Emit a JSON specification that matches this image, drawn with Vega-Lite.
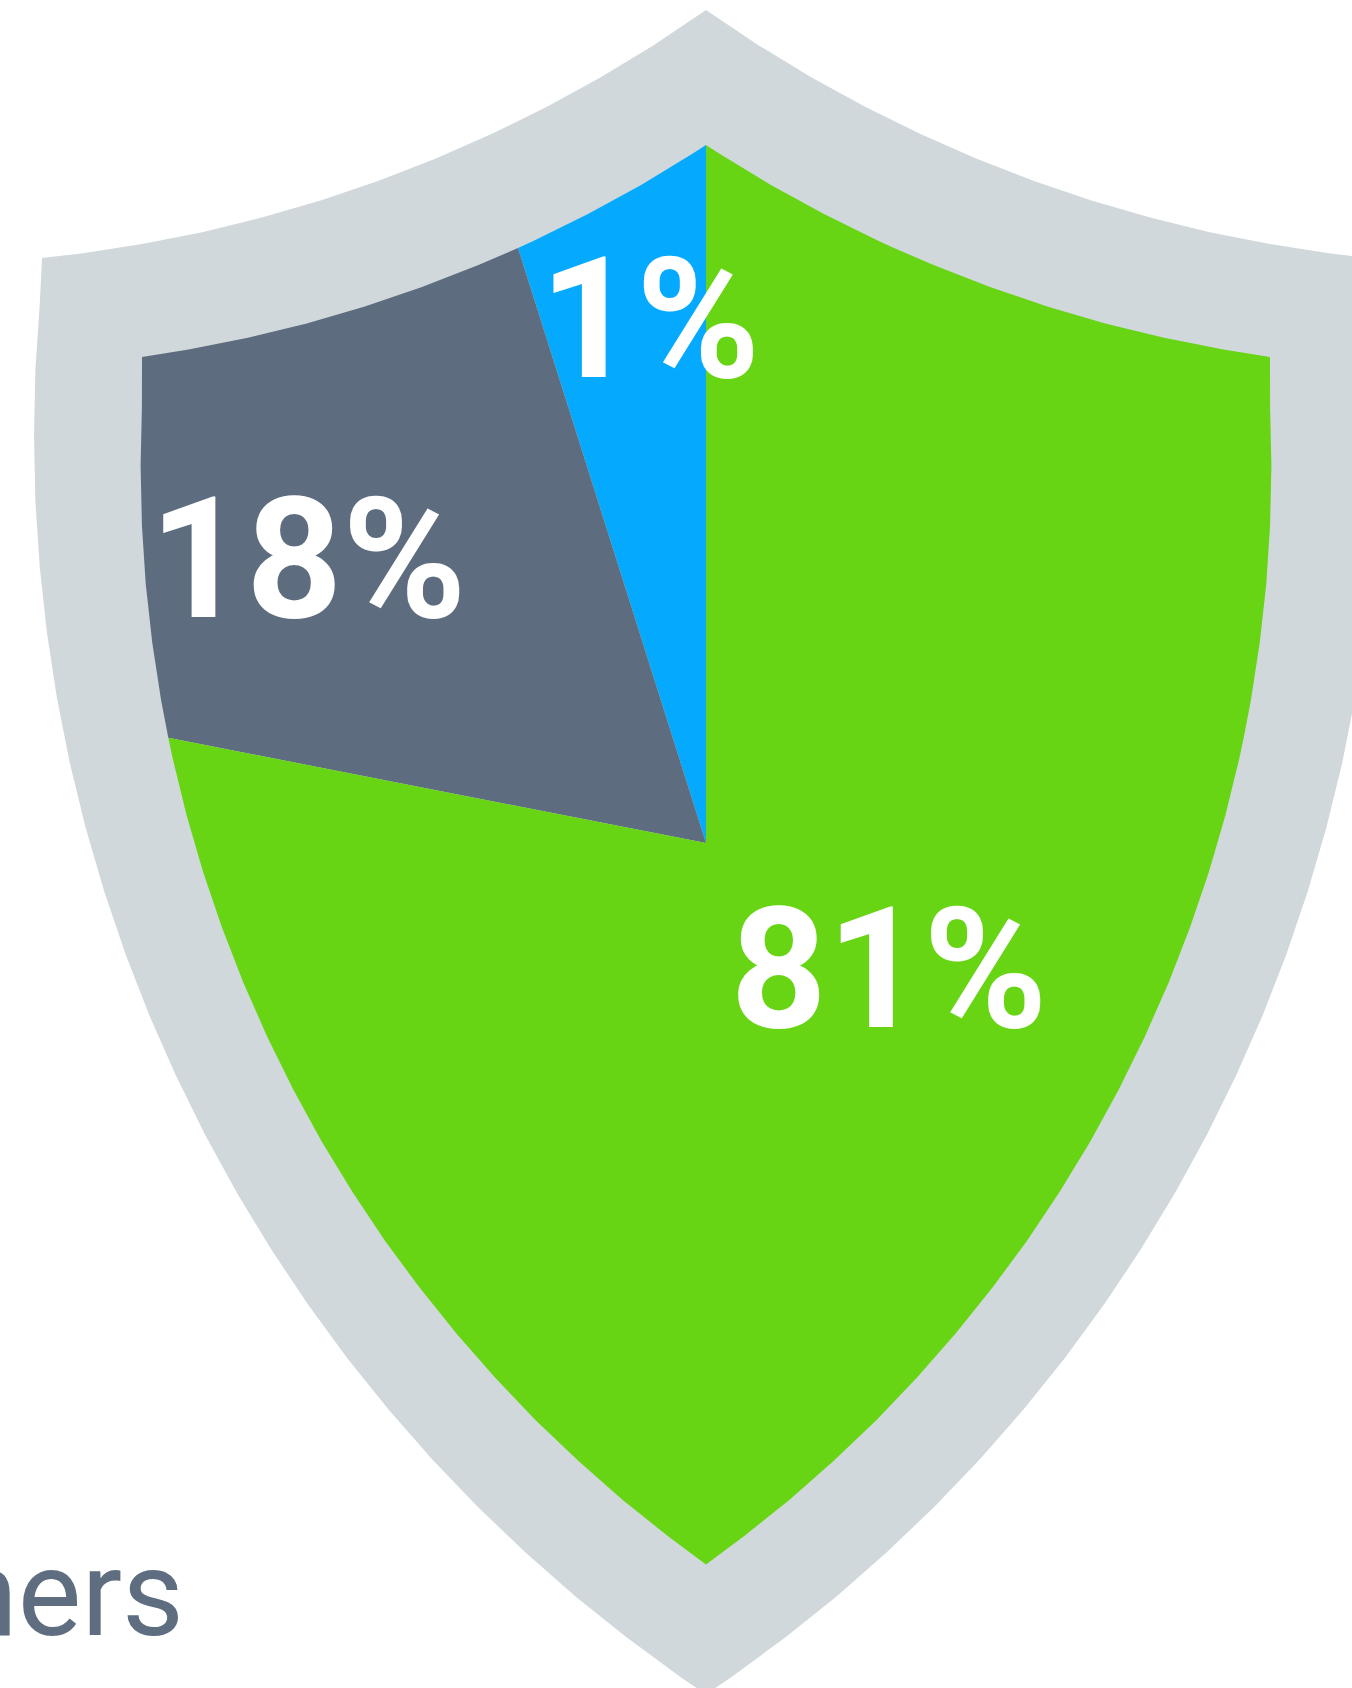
{
  "$schema": "https://vega.github.io/schema/vega-lite/v6.json",
  "width": 1352,
  "height": 1688,
  "autosize": "none",
  "padding": 0,
  "background": "#ffffff",
  "config": {"view": {"stroke": null}},
  "datasets": {
    "shield": [
      {"i":0,"x":706,"y":10},{"i":1,"x":758.8,"y":45.4},{"i":2,"x":811.2,"y":77.2},{"i":3,"x":865.1,"y":106.7},
      {"i":4,"x":920,"y":133.8},{"i":5,"x":976.1,"y":158.5},{"i":6,"x":1033.3,"y":180.7},{"i":7,"x":1091.4,"y":200.4},
      {"i":8,"x":1150.2,"y":217.6},{"i":9,"x":1209.8,"y":232.2},{"i":10,"x":1270,"y":244.1},{"i":11,"x":1330.6,"y":253.4},
      {"i":12,"x":1370,"y":258},{"i":13,"x":1372.2,"y":303.4},{"i":14,"x":1376.6,"y":369.4},{"i":15,"x":1378,"y":435.5},
      {"i":16,"x":1376.6,"y":501.6},{"i":17,"x":1372.2,"y":567.6},{"i":18,"x":1365,"y":633.3},{"i":19,"x":1355,"y":698.6},
      {"i":20,"x":1342.1,"y":763.5},{"i":21,"x":1326.4,"y":827.6},{"i":22,"x":1307.9,"y":891.1},{"i":23,"x":1286.6,"y":953.7},
      {"i":24,"x":1262.7,"y":1015.3},{"i":25,"x":1236,"y":1075.8},{"i":26,"x":1206.8,"y":1135.1},{"i":27,"x":1175,"y":1193.1},
      {"i":28,"x":1140.7,"y":1249.6},{"i":29,"x":1104,"y":1304.6},{"i":30,"x":1064.9,"y":1357.9},{"i":31,"x":1023.5,"y":1409.5},
      {"i":32,"x":979.9,"y":1459.2},{"i":33,"x":934.2,"y":1506.9},{"i":34,"x":886.5,"y":1552.6},{"i":35,"x":836.8,"y":1596.2},
      {"i":36,"x":785.2,"y":1637.6},{"i":37,"x":731.9,"y":1676.7},{"i":38,"x":706,"y":1694.4},{"i":39,"x":680.1,"y":1676.7},
      {"i":40,"x":626.8,"y":1637.6},{"i":41,"x":575.2,"y":1596.2},{"i":42,"x":525.5,"y":1552.6},{"i":43,"x":477.8,"y":1506.9},
      {"i":44,"x":432.1,"y":1459.2},{"i":45,"x":388.5,"y":1409.5},{"i":46,"x":347.1,"y":1357.9},{"i":47,"x":308,"y":1304.6},
      {"i":48,"x":271.3,"y":1249.6},{"i":49,"x":237,"y":1193.1},{"i":50,"x":205.2,"y":1135.1},{"i":51,"x":176,"y":1075.8},
      {"i":52,"x":149.3,"y":1015.3},{"i":53,"x":125.4,"y":953.7},{"i":54,"x":104.1,"y":891.1},{"i":55,"x":85.6,"y":827.6},
      {"i":56,"x":69.9,"y":763.5},{"i":57,"x":57,"y":698.6},{"i":58,"x":47,"y":633.3},{"i":59,"x":39.8,"y":567.6},
      {"i":60,"x":35.4,"y":501.6},{"i":61,"x":34,"y":435.5},{"i":62,"x":35.4,"y":369.4},{"i":63,"x":39.8,"y":303.4},
      {"i":64,"x":42,"y":258},{"i":65,"x":81.4,"y":253.4},{"i":66,"x":142,"y":244.1},{"i":67,"x":202.2,"y":232.2},
      {"i":68,"x":261.8,"y":217.6},{"i":69,"x":320.6,"y":200.4},{"i":70,"x":378.7,"y":180.7},{"i":71,"x":435.9,"y":158.5},
      {"i":72,"x":492,"y":133.8},{"i":73,"x":546.9,"y":106.7},{"i":74,"x":600.8,"y":77.2},{"i":75,"x":653.2,"y":45.4},
      {"i":76,"x":706,"y":10}
    ],
    "wedges": [
      {"segment":"1%","i":0,"x":706,"y":843},{"segment":"1%","i":1,"x":706,"y":145},{"segment":"1%","i":2,"x":692.8,"y":153.5},
      {"segment":"1%","i":3,"x":641.1,"y":184.9},{"segment":"1%","i":4,"x":588,"y":214},{"segment":"1%","i":5,"x":533.8,"y":240.7},
      {"segment":"1%","i":6,"x":518,"y":248},{"segment":"1%","i":7,"x":706,"y":843},

      {"segment":"18%","i":0,"x":706,"y":843},{"segment":"18%","i":1,"x":518,"y":248},{"segment":"18%","i":2,"x":478.4,"y":265.1},
      {"segment":"18%","i":3,"x":422,"y":287},{"segment":"18%","i":4,"x":364.8,"y":306.4},{"segment":"18%","i":5,"x":306.7,"y":323.4},
      {"segment":"18%","i":6,"x":247.9,"y":337.7},{"segment":"18%","i":7,"x":188.6,"y":349.5},{"segment":"18%","i":8,"x":142,"y":357},
      {"segment":"18%","i":9,"x":141.9,"y":407.1},{"segment":"18%","i":10,"x":140.6,"y":466},{"segment":"18%","i":11,"x":141.9,"y":524.9},
      {"segment":"18%","i":12,"x":145.7,"y":583.7},{"segment":"18%","i":13,"x":152.2,"y":642.2},{"segment":"18%","i":14,"x":161.1,"y":700.3},
      {"segment":"18%","i":15,"x":168.3,"y":737.8},{"segment":"18%","i":16,"x":706,"y":843},

      {"segment":"81%","i":0,"x":706,"y":843},{"segment":"81%","i":1,"x":168.3,"y":737.8},{"segment":"81%","i":2,"x":172.6,"y":758.1},
      {"segment":"81%","i":3,"x":186.6,"y":815.3},{"segment":"81%","i":4,"x":203.1,"y":871.9},{"segment":"81%","i":5,"x":222,"y":927.6},
      {"segment":"81%","i":6,"x":243.3,"y":982.5},{"segment":"81%","i":7,"x":267.1,"y":1036.4},{"segment":"81%","i":8,"x":293.1,"y":1089.2},
      {"segment":"81%","i":9,"x":321.4,"y":1140.9},{"segment":"81%","i":10,"x":352,"y":1191.2},{"segment":"81%","i":11,"x":384.6,"y":1240.2},
      {"segment":"81%","i":12,"x":419.5,"y":1287.6},{"segment":"81%","i":13,"x":456.4,"y":1333.6},{"segment":"81%","i":14,"x":495.2,"y":1377.8},
      {"segment":"81%","i":15,"x":535.9,"y":1420.4},{"segment":"81%","i":16,"x":578.5,"y":1461.1},{"segment":"81%","i":17,"x":622.7,"y":1499.9},
      {"segment":"81%","i":18,"x":668.7,"y":1536.8},{"segment":"81%","i":19,"x":706,"y":1564.4},{"segment":"81%","i":20,"x":743.3,"y":1536.8},
      {"segment":"81%","i":21,"x":789.3,"y":1499.9},{"segment":"81%","i":22,"x":833.5,"y":1461.1},{"segment":"81%","i":23,"x":876.1,"y":1420.4},
      {"segment":"81%","i":24,"x":916.8,"y":1377.8},{"segment":"81%","i":25,"x":955.6,"y":1333.6},{"segment":"81%","i":26,"x":992.5,"y":1287.6},
      {"segment":"81%","i":27,"x":1027.4,"y":1240.2},{"segment":"81%","i":28,"x":1060,"y":1191.2},{"segment":"81%","i":29,"x":1090.6,"y":1140.9},
      {"segment":"81%","i":30,"x":1118.9,"y":1089.2},{"segment":"81%","i":31,"x":1144.9,"y":1036.4},{"segment":"81%","i":32,"x":1168.7,"y":982.5},
      {"segment":"81%","i":33,"x":1190,"y":927.6},{"segment":"81%","i":34,"x":1208.9,"y":871.9},{"segment":"81%","i":35,"x":1225.4,"y":815.3},
      {"segment":"81%","i":36,"x":1239.4,"y":758.1},{"segment":"81%","i":37,"x":1243.7,"y":737.8},{"segment":"81%","i":38,"x":1250.9,"y":700.3},
      {"segment":"81%","i":39,"x":1259.8,"y":642.2},{"segment":"81%","i":40,"x":1266.3,"y":583.7},{"segment":"81%","i":41,"x":1270.1,"y":524.9},
      {"segment":"81%","i":42,"x":1271.4,"y":466},{"segment":"81%","i":43,"x":1270.1,"y":407.1},{"segment":"81%","i":44,"x":1270,"y":357},
      {"segment":"81%","i":45,"x":1223.4,"y":349.5},{"segment":"81%","i":46,"x":1164.1,"y":337.7},{"segment":"81%","i":47,"x":1105.3,"y":323.4},
      {"segment":"81%","i":48,"x":1047.2,"y":306.4},{"segment":"81%","i":49,"x":990,"y":287},{"segment":"81%","i":50,"x":933.6,"y":265.1},
      {"segment":"81%","i":51,"x":894,"y":248},{"segment":"81%","i":52,"x":878.2,"y":240.7},{"segment":"81%","i":53,"x":824,"y":214},
      {"segment":"81%","i":54,"x":770.9,"y":184.9},{"segment":"81%","i":55,"x":719.2,"y":153.5},{"segment":"81%","i":56,"x":706,"y":145},
      {"segment":"81%","i":57,"x":706,"y":843}
    ],
    "labels": [
      {"label":"1%","value":1,"x":650,"y":377},
      {"label":"18%","value":18,"x":308,"y":617},
      {"label":"81%","value":81,"x":889,"y":1027}
    ],
    "caption": [
      {"text":"ners","x":184,"y":1635}
    ]
  },
  "layer": [
    {
      "data": {"name": "shield"},
      "mark": {"type": "line", "filled": true, "color": "#D1D8DC", "interpolate": "linear"},
      "encoding": {
        "x": {"field": "x", "type": "quantitative", "scale": {"domain": [0, 1352], "nice": false, "zero": false}, "axis": null},
        "y": {"field": "y", "type": "quantitative", "scale": {"domain": [0, 1688], "nice": false, "zero": false, "reverse": true}, "axis": null},
        "order": {"field": "i", "type": "quantitative"}
      }
    },
    {
      "data": {"name": "wedges"},
      "mark": {"type": "line", "filled": true, "interpolate": "linear"},
      "encoding": {
        "x": {"field": "x", "type": "quantitative"},
        "y": {"field": "y", "type": "quantitative"},
        "order": {"field": "i", "type": "quantitative"},
        "color": {"field": "segment", "type": "nominal", "scale": {"domain": ["81%", "18%", "1%"], "range": ["#67D414", "#5D6D7F", "#05AAFF"]}, "legend": null}
      }
    },
    {
      "data": {"name": "labels"},
      "mark": {"type": "text", "font": "Roboto", "fontWeight": "bold", "fontSize": 168, "align": "center", "baseline": "alphabetic", "color": "#ffffff"},
      "encoding": {
        "x": {"field": "x", "type": "quantitative"},
        "y": {"field": "y", "type": "quantitative"},
        "text": {"field": "label"}
      }
    },
    {
      "data": {"name": "caption"},
      "mark": {"type": "text", "font": "Roboto", "fontSize": 120, "align": "right", "baseline": "alphabetic", "color": "#5E6E80"},
      "encoding": {
        "x": {"field": "x", "type": "quantitative"},
        "y": {"field": "y", "type": "quantitative"},
        "text": {"field": "text"}
      }
    }
  ]
}
